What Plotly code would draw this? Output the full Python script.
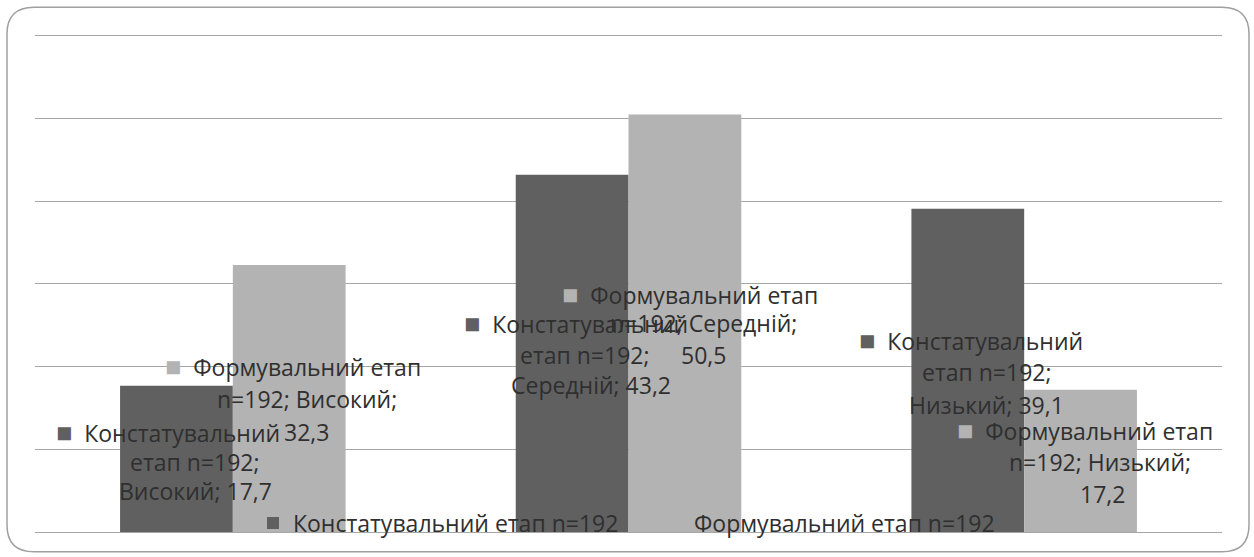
import plotly.graph_objects as go

# --- data ---
categories = ["Високий", "Середній", "Низький"]
series_names = ["Констатувальний етап n=192", "Формувальний етап n=192"]
konst_values = [17.7, 43.2, 39.1]
form_values = [32.3, 50.5, 17.2]

# --- styles ---
colors = ["#606060", "#b3b3b3"]
text_color = "#2f2f2f"
grid_color = "#a6a6a6"
font_family = "'Open Sans', sans-serif"
font_size = 23

W, H = 1254, 557
ML, MR, MT, MB = 35, 32, 33, 21
Y_MAX = 60.36
PW, PH = W - ML - MR, H - MT - MB

# words per wrapped line for the data labels of each series
wrap_words = [[1, 2], [2, 2]]

# label line placement: (xshift px from category centre, y in axis units) per line
label_pos = {
    (0, 0): [(-65, 12.1), (-38, 8.5), (-37, 4.9)],
    (1, 0): [(60, 20.2), (74, 16.1), (74, 12.1)],
    (0, 1): [(-53, 25.3), (-44, 21.4), (-38, 17.8)],
    (1, 1): [(61, 28.9), (75, 25.3), (75, 21.4)],
    (0, 2): [(-53, 23.3), (-37, 19.3), (-38, 15.4)],
    (1, 2): [(61, 12.4), (76, 8.5), (78, 4.6)],
}


def fmt(v):
    return f"{v:.1f}".replace(".", ",")


def label_lines(si, ci, value):
    words = f"{series_names[si]}; {categories[ci]}; {fmt(value)}".split(" ")
    lines, k = [], 0
    for n in wrap_words[si]:
        lines.append(" ".join(words[k:k + n]))
        k += n
    lines.append(" ".join(words[k:]))
    lines[0] = (f"<span style='color:{colors[si]};font-size:27px'>■</span>"
                "\u00a0\u00a0" + lines[0])
    return lines


fig = go.Figure()
all_values = [konst_values, form_values]
for si, vals in enumerate(all_values):
    fig.add_trace(go.Bar(
        x=list(range(len(categories))), y=vals, name=series_names[si],
        marker=dict(color=colors[si], line=dict(width=0)),
        hoverinfo="skip",
    ))

annotations = []
for si, vals in enumerate(all_values):
    for ci, v in enumerate(vals):
        for line, (dx, yy) in zip(label_lines(si, ci, v), label_pos[(si, ci)]):
            annotations.append(dict(
                x=ci, y=yy, xref="x", yref="y", xshift=dx,
                text=line, showarrow=False, xanchor="center", yanchor="middle",
                font=dict(family=font_family, size=font_size, color=text_color),
            ))


def px_to_paper(px, py):
    return (px - ML) / PW, (H - MB - py) / PH


# rounded outer frame
L, T, R, B, r = 7, 7, 1249, 556, 27
pts = [
    ("M", [(L + r, T)]), ("L", [(R - r, T)]), ("Q", [(R, T), (R, T + r)]),
    ("L", [(R, B - r)]), ("Q", [(R, B), (R - r, B)]), ("L", [(L + r, B)]),
    ("Q", [(L, B), (L, B - r)]), ("L", [(L, T + r)]), ("Q", [(L, T), (L + r, T)]),
]
path = ""
for cmd, coords in pts:
    path += cmd + " ".join(f"{px_to_paper(x, y)[0]:.5f},{px_to_paper(x, y)[1]:.5f}" for x, y in coords)
path += "Z"

fig.update_layout(
    width=W, height=H,
    margin=dict(l=ML, r=MR, t=MT, b=MB),
    paper_bgcolor="white", plot_bgcolor="white",
    barmode="group", bargap=0.43, bargroupgap=0,
    showlegend=True,
    legend=dict(
        orientation="h", x=(253 - ML) / PW, y=(H - MB - 527) / PH,
        xanchor="left", yanchor="middle",
        bgcolor="rgba(0,0,0,0)", entrywidth=356, entrywidthmode="pixels",
        font=dict(family=font_family, size=font_size, color=text_color),
        traceorder="normal",
    ),
    xaxis=dict(range=[-0.5, 2.5], showticklabels=False, showgrid=False,
               zeroline=False, showline=False, ticks=""),
    yaxis=dict(range=[0, Y_MAX], tick0=0, dtick=10, showticklabels=False,
               showgrid=True, gridcolor=grid_color, gridwidth=1, zeroline=True,
               zerolinecolor=grid_color, zerolinewidth=1, ticks=""),
    annotations=annotations,
    shapes=[dict(type="path", path=path, xref="paper", yref="paper",
                 line=dict(color="#a0a0a0", width=1.5), layer="above")],
)

fig.write_html("out.html")
